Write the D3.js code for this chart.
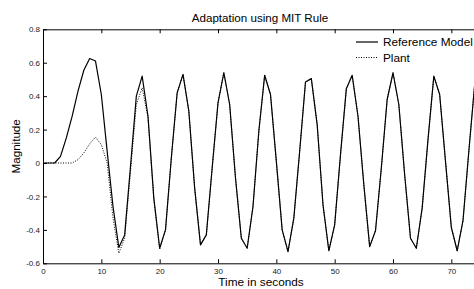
<!DOCTYPE html>
<html>
<head>
<meta charset="utf-8">
<script src="https://cdn.jsdelivr.net/npm/d3@7"></script>
<style>
  body { margin: 0; background: #fff; }
  svg { display: block; font-family: "Liberation Sans", Arial, sans-serif; }
</style>
</head>
<body>
<script>
// time samples (seconds)
var times = d3.range(0, 76);
// reference model output
var refModel = [0, 0, 0, 0.04, 0.15, 0.28, 0.43, 0.555, 0.625, 0.61,
  0.41, 0.07, -0.26, -0.505, -0.43, -0.02, 0.40, 0.52, 0.28, -0.21,
  -0.51, -0.40, 0.03, 0.42, 0.53, 0.31, -0.15, -0.49, -0.43, -0.03,
  0.36, 0.54, 0.35, -0.09, -0.45, -0.51, -0.26, 0.19, 0.525, 0.41,
  0.01, -0.40, -0.53, -0.33, 0.07, 0.485, 0.505, 0.23, -0.25, -0.525,
  -0.37, 0.05, 0.445, 0.525, 0.28, -0.13, -0.50, -0.405, -0.03, 0.38,
  0.54, 0.35, -0.07, -0.45, -0.51, -0.27, 0.14, 0.52, 0.41, 0.01,
  -0.385, -0.525, -0.345, 0.07, 0.47, 0.5];
// plant output
var plant = [0, 0, 0, 0, 0, 0, 0.02, 0.06, 0.115, 0.155,
  0.11, 0.0, -0.33, -0.54, -0.45, -0.05, 0.35, 0.45, 0.27, -0.22,
  -0.515, -0.40, 0.03, 0.42, 0.53, 0.31, -0.15, -0.49, -0.43, -0.03,
  0.36, 0.54, 0.35, -0.09, -0.45, -0.51, -0.26, 0.19, 0.525, 0.41,
  0.01, -0.40, -0.53, -0.33, 0.07, 0.485, 0.505, 0.23, -0.25, -0.525,
  -0.37, 0.05, 0.445, 0.525, 0.28, -0.13, -0.50, -0.405, -0.03, 0.38,
  0.54, 0.35, -0.07, -0.45, -0.51, -0.27, 0.14, 0.52, 0.41, 0.01,
  -0.385, -0.525, -0.345, 0.07, 0.47, 0.5];
var xTicks = [0, 10, 20, 30, 40, 50, 60, 70];
var yTicks = [0.8, 0.6, 0.4, 0.2, 0, -0.2, -0.4, -0.6];
var seriesNames = ["Reference Model", "Plant"];

function draw() {
  var W = 474, H = 289;
  var mLeft = 43, mTop = 29.3, mRight = 480.5, mBottom = 263.3;

  var svg = d3.select("body").append("svg")
    .attr("width", W)
    .attr("height", H);

  var x = d3.scaleLinear().domain([0, 75]).range([mLeft, mRight]);
  var y = d3.scaleLinear().domain([-0.6, 0.8]).range([mBottom, mTop]);

  var fmt = function (d) { return d === 0 ? "0" : d3.format(".1f")(d).replace("\u2212", "-"); };

  // axes box with inward ticks
  var xAxisB = d3.axisBottom(x).tickValues(xTicks).tickSizeInner(-4).tickSizeOuter(0).tickPadding(5);
  var xAxisT = d3.axisTop(x).tickValues(xTicks).tickSizeInner(-4).tickSizeOuter(0).tickFormat("");
  var yAxisL = d3.axisLeft(y).tickValues(yTicks).tickSizeInner(-4).tickSizeOuter(0).tickPadding(3).tickFormat(fmt);
  var yAxisR = d3.axisRight(y).tickValues(yTicks).tickSizeInner(-4).tickSizeOuter(0).tickFormat("");

  svg.append("g").attr("transform", "translate(0," + mBottom + ")").call(xAxisB);
  svg.append("g").attr("transform", "translate(0," + mTop + ")").call(xAxisT);
  svg.append("g").attr("transform", "translate(" + mLeft + ",0)").call(yAxisL);
  svg.append("g").attr("transform", "translate(" + mRight + ",0)").call(yAxisR);

  svg.selectAll(".domain").attr("stroke", "#000").attr("stroke-width", 1);
  svg.selectAll(".tick line").attr("stroke", "#000");
  svg.selectAll(".tick text").attr("fill", "#222").style("font-size", "8px");

  // lines
  svg.append("clipPath").attr("id", "plotclip")
    .append("rect").attr("x", mLeft).attr("y", mTop)
    .attr("width", mRight - mLeft).attr("height", mBottom - mTop);

  var line = d3.line()
    .x(function (d) { return x(d[0]); })
    .y(function (d) { return y(d[1]); });

  svg.append("path")
    .datum(times.map(function (t, i) { return [t, plant[i]]; }))
    .attr("clip-path", "url(#plotclip)")
    .attr("fill", "none")
    .attr("stroke", "#000")
    .attr("stroke-width", 1)
    .attr("stroke-dasharray", "1,1.5")
    .attr("d", line);

  svg.append("path")
    .datum(times.map(function (t, i) { return [t, refModel[i]]; }))
    .attr("clip-path", "url(#plotclip)")
    .attr("fill", "none")
    .attr("stroke", "#000")
    .attr("stroke-width", 1.2)
    .attr("stroke-linejoin", "round")
    .attr("d", line);

  // title and labels
  svg.append("text")
    .attr("x", 260).attr("y", 22)
    .attr("text-anchor", "middle")
    .style("font-size", "11.6px")
    .text("Adaptation using MIT Rule");

  svg.append("text")
    .attr("x", 261).attr("y", 286)
    .attr("text-anchor", "middle")
    .style("font-size", "11.8px")
    .text("Time in seconds");

  svg.append("text")
    .attr("transform", "translate(20," + ((mTop + mBottom) / 2) + ")rotate(-90)")
    .attr("text-anchor", "middle")
    .style("font-size", "11.6px")
    .text("Magnitude");

  // legend
  var legend = svg.selectAll(".legend")
    .data(seriesNames)
    .enter().append("g")
    .attr("class", "legend")
    .attr("transform", function (d, i) { return "translate(356," + (42 + i * 15.5) + ")"; });

  legend.append("line")
    .attr("x1", 0).attr("x2", 22)
    .attr("stroke", "#000")
    .attr("stroke-width", function (d, i) { return i === 0 ? 1.2 : 1; })
    .attr("stroke-dasharray", function (d, i) { return i === 0 ? null : "1,1.5"; });

  legend.append("text")
    .attr("x", 27).attr("y", 4.3)
    .style("font-size", "11.8px")
    .text(function (d) { return d; });
}
draw();
</script>
</body>
</html>
